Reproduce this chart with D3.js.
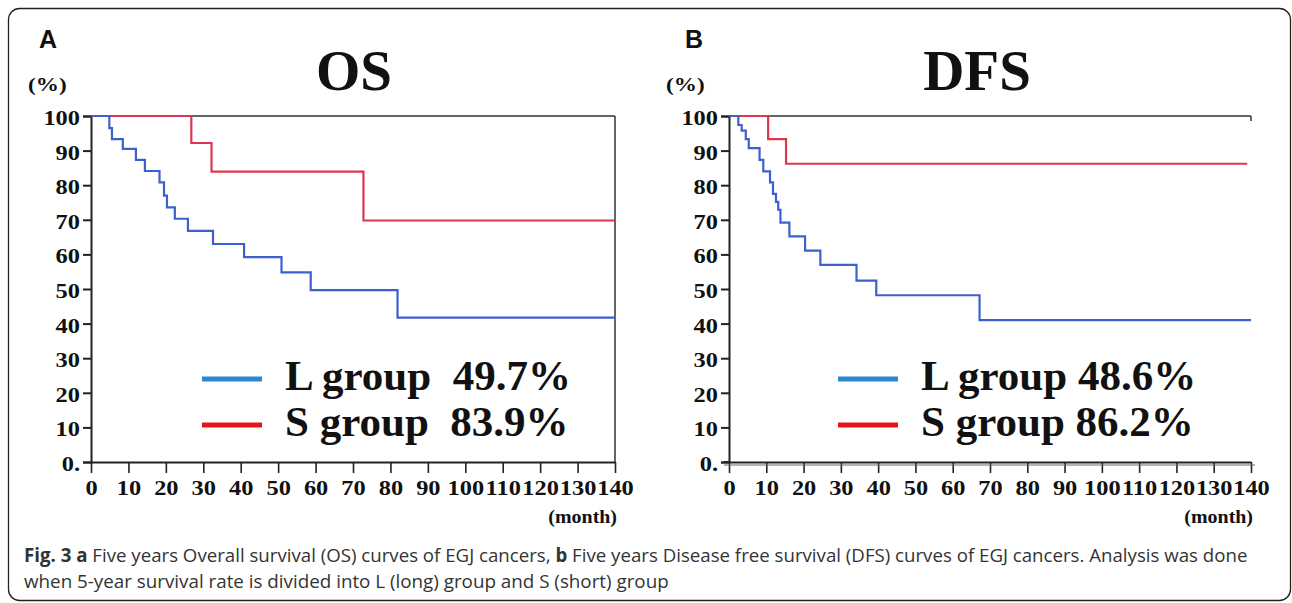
<!DOCTYPE html>
<html>
<head>
<meta charset="utf-8">
<script src="https://cdn.jsdelivr.net/npm/d3@7/dist/d3.min.js"></script>
<style>
  body { margin: 0; background: #fff; }
</style>
</head>
<body>
<div id="chart"></div>
<script>
// tick labels
const xTicks = [0, 10, 20, 30, 40, 50, 60, 70, 80, 90, 100, 110, 120, 130, 140];
const yTicks = [0, 10, 20, 30, 40, 50, 60, 70, 80, 90, 100];
const yTickLabels = ['0.', '10', '20', '30', '40', '50', '60', '70', '80', '90', '100'];

// OS curves (month, survival %)
const osLMonths = [0, 4.9, 5.6, 8.5, 12.0, 14.4, 18.3, 19.5, 20.3, 22.4, 25.9, 32.6, 40.9, 50.9, 58.7, 81.9, 140];
const osLSurv   = [100, 96.5, 93.3, 90.5, 87.3, 84.1, 80.8, 77.0, 73.6, 70.3, 66.8, 63.0, 59.2, 54.8, 49.7, 41.7, 41.7];
const osSMonths = [0, 26.8, 32.2, 72.8, 140];
const osSSurv   = [100, 92.2, 83.9, 69.8, 69.8];

// DFS curves (month, survival %)
const dfsLMonths = [0, 2.5, 3.4, 4.5, 5.3, 8.2, 9.2, 11.0, 11.8, 12.6, 13.2, 13.8, 16.2, 20.4, 24.5, 34.2, 39.5, 67.2, 140];
const dfsLSurv   = [100, 97.4, 95.8, 93.3, 90.7, 87.3, 84.0, 80.8, 77.5, 75.2, 72.9, 69.2, 65.2, 61.1, 57.0, 52.4, 48.2, 41.0, 41.0];
const dfsSMonths = [0, 10.5, 15.3, 139];
const dfsSSurv   = [100, 93.3, 86.2, 86.2];

const groupNames = ['L group', 'S group'];
const osRates = ['49.7%', '83.9%'];
const dfsRates = ['48.6%', '86.2%'];

const width = 1292, height = 603;
const curveBlue = '#3d5fd0', curveRed = '#d8394f';
const legendBlue = '#2a88cf', legendRed = '#e8141c';
const serif = '"Liberation Serif", "Times New Roman", serif';
const stretch = 1.22;   // the figure is a bit wider than tall in its glyphs

const svg = d3.select('#chart').append('svg')
    .attr('width', width)
    .attr('height', height);

/* outer rounded frame */
svg.append('rect')
    .attr('x', 8.5).attr('y', 8.5)
    .attr('width', 1282).attr('height', 592)
    .attr('rx', 11)
    .attr('fill', 'none')
    .attr('stroke', '#222')
    .attr('stroke-width', 1.3);

function drawPanel(p) {
    const xScale = d3.scaleLinear().domain([0, 140]).range([p.left, p.right]);
    const yScale = d3.scaleLinear().domain([0, 100]).range([462, 116]);
    const g = svg.append('g');

    // panel letter
    g.append('text')
        .text(p.letter)
        .attr('x', p.letterX).attr('y', 48)
        .attr('font-family', 'Arial, "Liberation Sans", sans-serif')
        .attr('font-weight', 'bold')
        .attr('font-size', 25)
        .attr('fill', '#111');

    // title
    g.append('text')
        .text(p.title)
        .attr('x', p.titleX).attr('y', 90)
        .attr('text-anchor', 'middle')
        .attr('font-family', serif)
        .attr('font-weight', 'bold')
        .attr('font-size', 57)
        .attr('fill', '#111');

    // (%) label
    g.append('text')
        .text('(%)')
        .attr('transform', `translate(${p.left - 63},91) scale(${stretch},1)`)
        .attr('font-family', serif)
        .attr('font-weight', 'bold')
        .attr('font-size', 19)
        .attr('fill', '#111');

    // top frame line (and right side for panel A)
    g.append('line')
        .attr('x1', p.left).attr('x2', p.right)
        .attr('y1', yScale(100)).attr('y2', yScale(100))
        .attr('stroke', '#333').attr('stroke-width', 1.5);
    g.append('line')
        .attr('x1', p.right).attr('x2', p.right)
        .attr('y1', yScale(100)).attr('y2', p.frameRight ? yScale(0) : yScale(100) + 5)
        .attr('stroke', '#333').attr('stroke-width', 1.5);

    /* y axis */
    const yAxis = d3.axisLeft(yScale)
        .tickValues(yTicks)
        .tickSize(8)
        .tickPadding(3)
        .tickFormat((d, i) => yTickLabels[i]);
    const yg = g.append('g')
        .attr('transform', `translate(${p.left},0)`)
        .call(yAxis);
    yg.select('.domain').attr('stroke', '#222').attr('stroke-width', 2);
    yg.selectAll('.tick line').attr('stroke', '#222').attr('stroke-width', 2);
    yg.selectAll('text')
        .attr('font-family', serif)
        .attr('font-weight', 'bold')
        .attr('font-size', 20)
        .attr('fill', '#111')
        .attr('x', -11 / stretch)
        .attr('transform', `scale(${stretch},1)`)
        .attr('dy', '0.42em');

    /* x axis */
    const xAxis = d3.axisBottom(xScale)
        .tickValues(xTicks)
        .tickSize(11)
        .tickPadding(8)
        .tickSizeOuter(0);
    const xg = g.append('g')
        .attr('transform', `translate(0,${yScale(0)})`)
        .call(xAxis);
    xg.select('.domain').attr('stroke', '#222').attr('stroke-width', 2);
    xg.selectAll('.tick line').attr('stroke', '#222').attr('stroke-width', 1.6);
    xg.selectAll('text')
        .attr('font-family', serif)
        .attr('font-weight', 'bold')
        .attr('font-size', 20)
        .attr('fill', '#111')
        .attr('transform', `scale(${stretch},1)`);
    if (p.doubleAxis) {
        g.append('line')
            .attr('x1', p.left - 5).attr('x2', p.right + 4)
            .attr('y1', yScale(0) + 3).attr('y2', yScale(0) + 3)
            .attr('stroke', '#666').attr('stroke-width', 1);
        g.append('line')
            .attr('x1', p.left - 5).attr('x2', p.left)
            .attr('y1', yScale(0)).attr('y2', yScale(0))
            .attr('stroke', '#222').attr('stroke-width', 2);
    }

    // (month)
    g.append('text')
        .text('(month)')
        .attr('transform', `translate(${p.right + 2},523) scale(1.05,1)`)
        .attr('text-anchor', 'end')
        .attr('font-family', serif)
        .attr('font-weight', 'bold')
        .attr('font-size', 19)
        .attr('fill', '#111');

    /* step curves */
    const line = d3.line()
        .x(d => xScale(d[0]))
        .y(d => yScale(d[1]))
        .curve(d3.curveStepAfter);

    p.curves.forEach(c => {
        g.append('path')
            .datum(d3.zip(c.months, c.surv))
            .attr('fill', 'none')
            .attr('stroke', c.color)
            .attr('stroke-width', 2.2)
            .attr('d', line);
    });

    /* legend */
    [legendBlue, legendRed].forEach((col, i) => {
        const ly = 379 + i * 46;
        g.append('line')
            .attr('x1', p.legendX).attr('x2', p.legendX + 60)
            .attr('y1', ly).attr('y2', ly)
            .attr('stroke', col)
            .attr('stroke-width', 5);
        g.append('text')
            .text(groupNames[i] + p.gap + p.rates[i])
            .attr('x', p.legendX + 83).attr('y', ly + 11)
            .style('white-space', 'pre')
            .attr('font-family', serif)
            .attr('font-weight', 'bold')
            .attr('font-size', 43)
            .attr('fill', '#111');
    });
}

drawPanel({
    letter: 'A', letterX: 39, title: 'OS', titleX: 354,
    left: 91, right: 615, frameRight: true, doubleAxis: false,
    legendX: 202, gap: '  ', rates: osRates,
    curves: [
        { months: osSMonths, surv: osSSurv, color: curveRed },
        { months: osLMonths, surv: osLSurv, color: curveBlue }
    ]
});

drawPanel({
    letter: 'B', letterX: 685, title: 'DFS', titleX: 977,
    left: 729, right: 1251, frameRight: false, doubleAxis: true,
    legendX: 838, gap: ' ', rates: dfsRates,
    curves: [
        { months: dfsSMonths, surv: dfsSSurv, color: curveRed },
        { months: dfsLMonths, surv: dfsLSurv, color: curveBlue }
    ]
});

/* caption, squeezed horizontally to the narrow look of the original */
const captionLines = [
    { y: 562, w: 1224, parts: [['Fig. 3 ', true], ['a', true], [' Five years Overall survival (OS) curves of EGJ cancers, ', false], ['b', true], [' Five years Disease free survival (DFS) curves of EGJ cancers. Analysis was done', false]] },
    { y: 588, w: 645, parts: [['when 5-year survival rate is divided into L (long) group and S (short) group', false]] }
];
captionLines.forEach(l => {
    const t = svg.append('text')
        .attr('x', 0).attr('y', 0)
        .attr('font-family', '"Open Sans", sans-serif')
        .attr('font-size', 19)
        .attr('fill', '#333')
        .style('white-space', 'pre');
    l.parts.forEach(pt => {
        t.append('tspan').text(pt[0]).attr('font-weight', pt[1] ? 'bold' : 'normal');
    });
    const bw = t.node().getComputedTextLength();
    t.attr('transform', `translate(24,${l.y}) scale(${l.w / bw},1)`);
});
</script>
</body>
</html>
